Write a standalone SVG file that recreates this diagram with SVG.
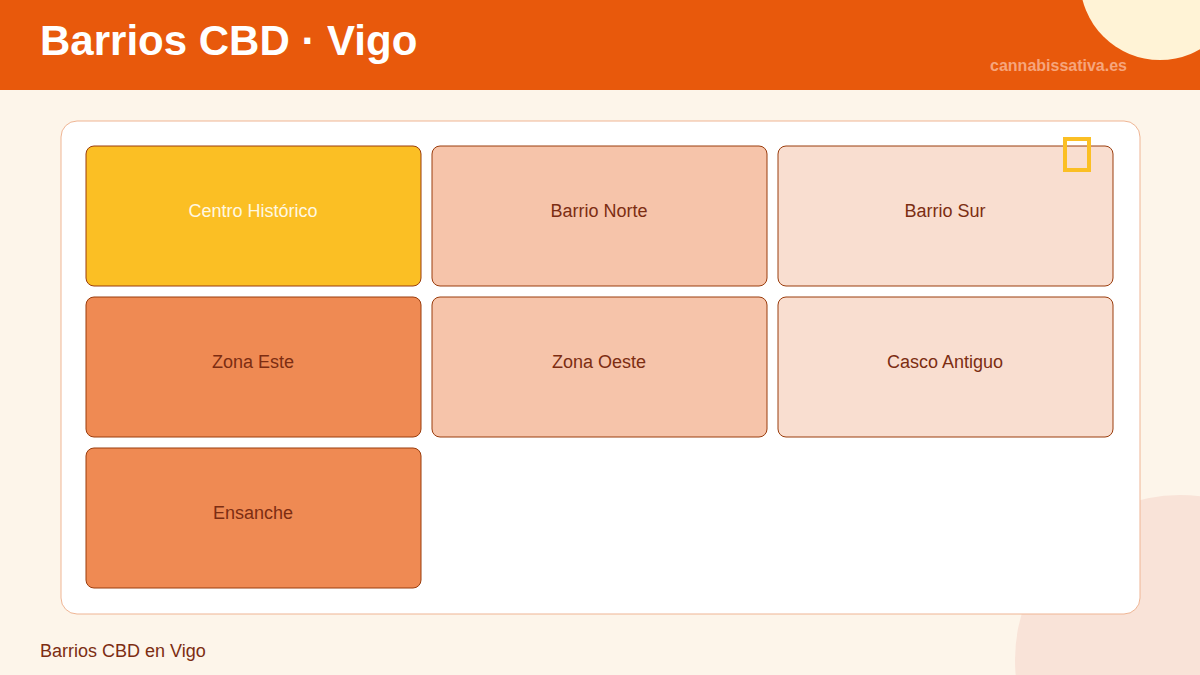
<svg xmlns="http://www.w3.org/2000/svg" width="1200" height="675" viewBox="0 0 1200 675">
<style>
.card{stroke:#9A3C0C;stroke-width:1}
.lbl{font-family:"Liberation Sans",Arial,sans-serif;font-size:18px;fill:#7C2D12;text-anchor:middle}
.yel{fill:#FBBF24}
.mid{fill:#F6C4AA}
.lt{fill:#F9DED0}
.dk{fill:#EF8A53}
</style>
<rect x="0" y="0" width="1200" height="675" fill="#FDF5EA"/>
<circle cx="1180" cy="660" r="165" fill="#F9E3D8"/>
<rect x="0" y="0" width="1200" height="90" fill="#E8590C"/>
<circle cx="1160" cy="-20" r="80" fill="#FFF3D6"/>
<text x="40" y="55" font-family="Liberation Sans,Arial,sans-serif" font-size="42" font-weight="bold" fill="#FFFFFF">Barrios CBD · Vigo</text>
<text x="1127" y="71" font-family="Liberation Sans,Arial,sans-serif" font-size="16" font-weight="bold" fill="#F6A57C" text-anchor="end">cannabissativa.es</text>
<rect x="61" y="121" width="1079" height="493" rx="16" fill="#FFFFFF" stroke="#EFB594" stroke-width="1"/>
<g id="centro-historico"><rect class="card yel" x="86" y="146" width="335" height="140" rx="8"/><text class="lbl" x="253" y="217" style="fill:#FFF8E1">Centro Histórico</text></g>
<g id="barrio-norte"><rect class="card mid" x="432" y="146" width="335" height="140" rx="8"/><text class="lbl" x="599" y="217">Barrio Norte</text></g>
<g id="barrio-sur"><rect class="card lt" x="778" y="146" width="335" height="140" rx="8"/><text class="lbl" x="945" y="217">Barrio Sur</text></g>
<g id="zona-este"><rect class="card dk" x="86" y="297" width="335" height="140" rx="8"/><text class="lbl" x="253" y="368">Zona Este</text></g>
<g id="zona-oeste"><rect class="card mid" x="432" y="297" width="335" height="140" rx="8"/><text class="lbl" x="599" y="368">Zona Oeste</text></g>
<g id="casco-antiguo"><rect class="card lt" x="778" y="297" width="335" height="140" rx="8"/><text class="lbl" x="945" y="368">Casco Antiguo</text></g>
<g id="ensanche"><rect class="card dk" x="86" y="448" width="335" height="140" rx="8"/><text class="lbl" x="253" y="519">Ensanche</text></g>
<g id="connectors"></g>
<rect x="1065" y="139" width="24" height="31" fill="none" stroke="#FBBF24" stroke-width="4"/>
<text x="40" y="657" font-family="Liberation Sans,Arial,sans-serif" font-size="18" fill="#7C2D12">Barrios CBD en Vigo</text>
</svg>
